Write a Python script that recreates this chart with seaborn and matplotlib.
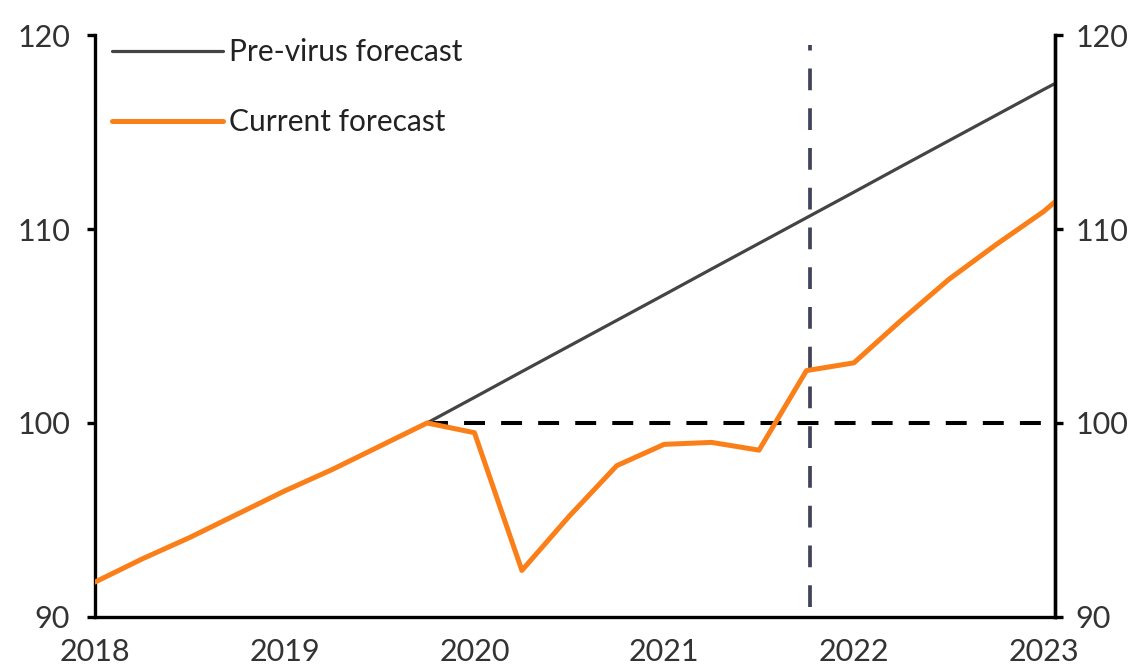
import matplotlib
matplotlib.use("Agg")
import matplotlib.pyplot as plt
import seaborn as sns
import pandas as pd

# ---- data ----
current_x = [2018.0, 2018.25, 2018.5, 2018.75, 2019.0, 2019.25, 2019.5, 2019.75,
             2020.0, 2020.25, 2020.5, 2020.75, 2021.0, 2021.25, 2021.5, 2021.75,
             2022.0, 2022.25, 2022.5, 2022.75, 2023.0, 2023.06]
current_y = [91.8, 93.0, 94.1, 95.3, 96.5, 97.6, 98.8, 100.0,
             99.5, 92.4, 95.2, 97.8, 98.9, 99.0, 98.6, 102.7,
             103.1, 105.3, 107.4, 109.2, 110.9, 111.4]
previrus_x = [2019.75, 2020.0, 2020.25, 2020.5, 2020.75, 2021.0, 2021.25, 2021.5,
              2021.75, 2022.0, 2022.25, 2022.5, 2022.75, 2023.0, 2023.06]
previrus_y = [100.0, 101.32, 102.65, 103.97, 105.29, 106.61, 107.94, 109.26,
              110.58, 111.9, 113.23, 114.55, 115.87, 117.19, 117.5]
ref_level = 100
ref_start = 2019.75
marker_date = 2021.77
x_ticks = [2018, 2019, 2020, 2021, 2022, 2023]
y_ticks = [90, 100, 110, 120]

sns.set_theme(style="white")
plt.rcParams['font.family'] = ['Lato', 'DejaVu Sans']

fig = plt.figure(figsize=(11.42, 6.66), dpi=100)
ax = fig.add_axes([0.0832, 0.0736, 0.8406, 0.8738])

df_pre = pd.DataFrame({"x": previrus_x, "y": previrus_y})
df_cur = pd.DataFrame({"x": current_x, "y": current_y})

XMAX = 2023.06
# reference lines
ax.plot([ref_start, XMAX], [ref_level, ref_level], color='black', lw=2.9,
        dashes=(5.2, 4.0), zorder=2)
ax.plot([marker_date, marker_date], [90.5, 119.5], color='#41435a', lw=2.7,
        dashes=(5.8, 4.8), zorder=2)

sns.lineplot(data=df_pre, x="x", y="y", ax=ax, color='#444444', lw=2.3,
             label="Pre-virus forecast", zorder=3)
sns.lineplot(data=df_cur, x="x", y="y", ax=ax, color='#fb7f18', lw=3.6,
             label="Current forecast", zorder=4)

ax.set_xlim(2018, XMAX)
ax.set_ylim(90, 120)
ax.set_xticks(x_ticks)
ax.set_xticklabels([str(t) for t in x_ticks])
ax.set_yticks(y_ticks)
ax.set_xlabel("")
ax.set_ylabel("")

for s in ['left', 'bottom', 'right']:
    ax.spines[s].set_visible(True)
    ax.spines[s].set_color('black')
    ax.spines[s].set_linewidth(2.4)
ax.spines['top'].set_visible(False)

ax2 = ax.twinx()
ax2.set_ylim(90, 120)
ax2.set_yticks(y_ticks)
for s in ['left', 'bottom', 'top']:
    ax2.spines[s].set_visible(False)
ax2.spines['right'].set_color('black')
ax2.spines['right'].set_linewidth(2.4)

for a in (ax, ax2):
    a.tick_params(axis='both', direction='out', length=6, width=2.4,
                  labelsize=22, colors='black', labelcolor='#333333', pad=12)
ax.tick_params(axis='x', pad=9)
ax2.tick_params(axis='y', pad=9)

leg = ax.legend(loc='upper left', bbox_to_anchor=(-0.004, 1.03), frameon=False,
                fontsize=21.5, handlelength=3.7, handletextpad=0.2,
                labelspacing=1.4, borderaxespad=0.3)
for t in leg.get_texts():
    t.set_color('#222222')

fig.savefig("out.png", dpi=100)
